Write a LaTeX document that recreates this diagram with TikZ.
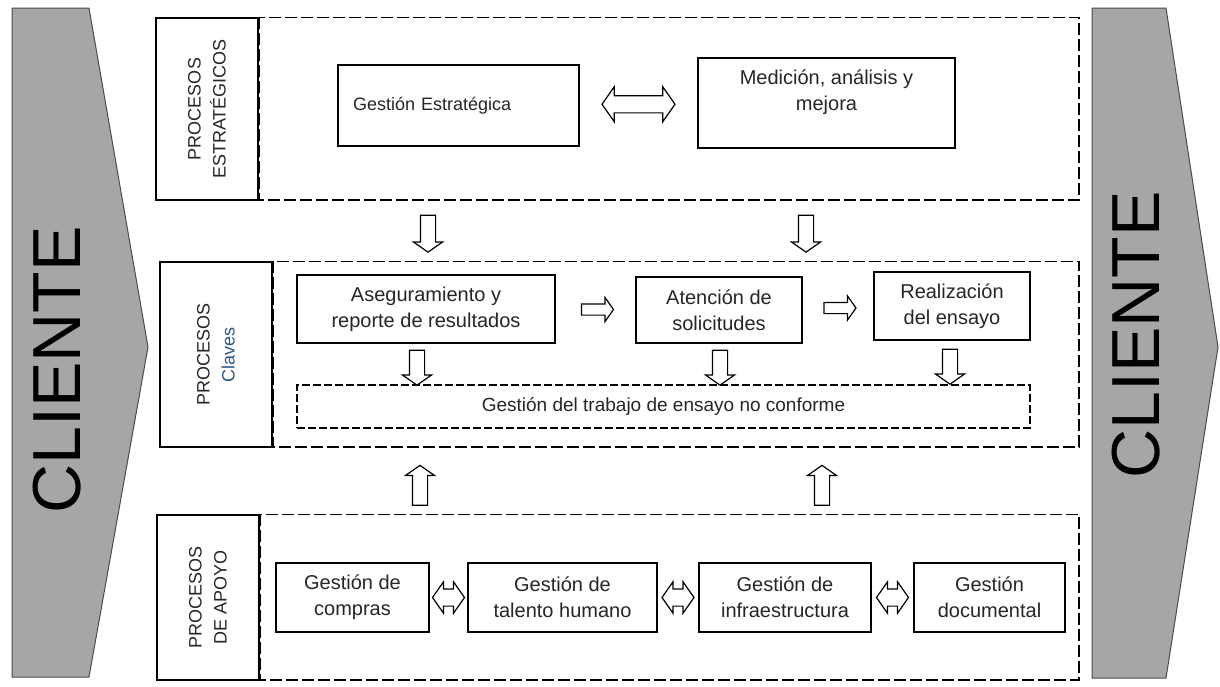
\documentclass[tikz,border=0pt]{standalone}
\usepackage{fontspec}
\setmainfont{Liberation Sans}
\usetikzlibrary{shapes.arrows}
\usetikzlibrary{calc}

\newcommand{\fsz}[2]{\fontsize{#1}{#2}\selectfont}
\definecolor{chevgray}{RGB}{166,166,166}
\definecolor{clavesblue}{RGB}{45,85,135}

\begin{document}
\begin{tikzpicture}[
    x=0.5pt, y=-0.5pt,
    every node/.style={font=\fsz{10}{13}, text=black!85},
    procbox/.style={draw, line width=0.6pt, fill=white, align=center, inner sep=0pt},
    tagbox/.style={draw, line width=0.6pt, align=center, inner sep=0pt, rotate=90, font=\fsz{9}{12.5}},
    band/.style={line width=0.9pt, dash pattern=on 6pt off 2pt},
    chevron/.style={fill=chevgray, draw=black!70, line width=0.5pt},
    bigtext/.style={font=\fsz{34}{34}, text=black, rotate=90},
    vertarr/.style={single arrow, draw, fill=white, line width=0.6pt, inner xsep=0pt,
      inner ysep=3.5pt, single arrow head extend=3.5pt, minimum height=18.5pt,
      single arrow tip angle=110},
    rarr/.style={single arrow, draw, fill=white, line width=0.6pt, inner xsep=0pt,
      inner ysep=2.5pt, single arrow head extend=3.25pt, minimum height=16pt,
      single arrow tip angle=110},
    dblarr/.style={double arrow, draw, fill=white, line width=0.6pt, inner xsep=0pt,
      inner ysep=4pt, double arrow head extend=3.5pt, minimum height=16pt,
      double arrow tip angle=110},
  ]
  \useasboundingbox[fill=white] (0,0) rectangle (1220,686);

  % Cliente chevrons
  \draw[chevron] (12,8) -- (89,8) -- (148,347) -- (89,677) -- (12,677) -- cycle;
  \node[bigtext] (clienteL) at (57,370) {CLIENTE};
  \draw[chevron] (1092,8) -- (1166,8) -- (1218,347) -- (1166,678) -- (1092,678) -- cycle;
  \node[bigtext] (clienteR) at (1136,335) {CLIENTE};

  % Bands
  \node[tagbox, minimum width=91pt, minimum height=51pt] (tagE) at (207,109)
    {PROCESOS\\ESTRATÉGICOS};
  \draw[band] (tagE.south east) rectangle (1079,200);
  \node[tagbox, minimum width=92.5pt, minimum height=56pt] (tagC) at (216,354.5)
    {PROCESOS\\\textcolor{clavesblue}{Claves}};
  \draw[band] (tagC.south east) rectangle (1079,447);
  \node[tagbox, minimum width=82.5pt, minimum height=51pt] (tagA) at (208,597.5)
    {PROCESOS\\DE APOYO};
  \draw[band] (tagA.south east) rectangle (1079,680);

  % Strategic processes
  \node[procbox, minimum height=40.5pt, inner xsep=7.5pt, text width=105.5pt, align=left,
    font=\fsz{9}{12}] (gestE) at (458.5,105.5) {Gestión Estratégica};
  \node[procbox, minimum width=128.5pt, minimum height=45pt] (medic) at (826.5,103)
    {Medición, análisis y\\mejora\\\mbox{}};
  \node[dblarr, minimum height=36.5pt, double arrow head extend=4.5pt] (ar1)
    at ($(gestE.east)!0.5!(medic.west)$) {};

  % Key processes
  \node[procbox, minimum width=129pt, minimum height=34pt] (asegur) at (426,309)
    {Aseguramiento y\\reporte de resultados};
  \node[procbox, minimum width=83pt, minimum height=33pt] (atenc) at (719,310)
    {Atención de\\solicitudes};
  \node[procbox, minimum width=78pt, minimum height=34pt] (realiz) at (952,306)
    {Realización\\del ensayo};
  \node[procbox, dash pattern=on 4pt off 1.5pt, line width=0.8pt, minimum width=366.5pt,
    minimum height=21.5pt, font=\fsz{9.5}{10}] (trabajo) at (663.5,406.5)
    {Gestión del trabajo de ensayo no conforme};
  \node[rarr] (ar2) at ($(asegur.east)!0.5!(atenc.west)$) {};
  \node[rarr] (ar3) at ($(atenc.east)!0.5!(realiz.west)$) {};
  \node[vertarr, rotate=270, minimum height=17.5pt] (ar4) at (417,365) {};
  \node[vertarr, rotate=270, minimum height=17.5pt] (ar5) at (720,365) {};
  \node[vertarr, rotate=270, minimum height=17.5pt] (ar6) at (950,364) {};

  % Between bands
  \node[vertarr, rotate=270] (ar7) at (428,231) {};
  \node[vertarr, rotate=270] (ar8) at (806,231) {};
  \node[vertarr, rotate=90, minimum height=20pt] (ar9) at (420,488) {};
  \node[vertarr, rotate=90, minimum height=20pt] (ar10) at (822,488) {};

  % Support processes
  \node[procbox, minimum width=76.5pt, minimum height=34.5pt] (compras) at (352.5,597.5)
    {Gestión de\\compras};
  \node[procbox, minimum width=94.5pt, minimum height=34.5pt] (talento) at (562.5,597.5)
    {Gestión de\\talento humano};
  \node[procbox, minimum width=86pt, minimum height=34.5pt] (infra) at (785,597.5)
    {Gestión de\\infraestructura};
  \node[procbox, minimum width=75.5pt, minimum height=34.5pt] (docum) at (989.5,597.5)
    {Gestión\\documental};
  \node[dblarr] (ar11) at ($(compras.east)!0.5!(talento.west)$) {};
  \node[dblarr] (ar12) at ($(talento.east)!0.5!(infra.west)$) {};
  \node[dblarr] (ar13) at ($(infra.east)!0.5!(docum.west)$) {};

\end{tikzpicture}
\end{document}
